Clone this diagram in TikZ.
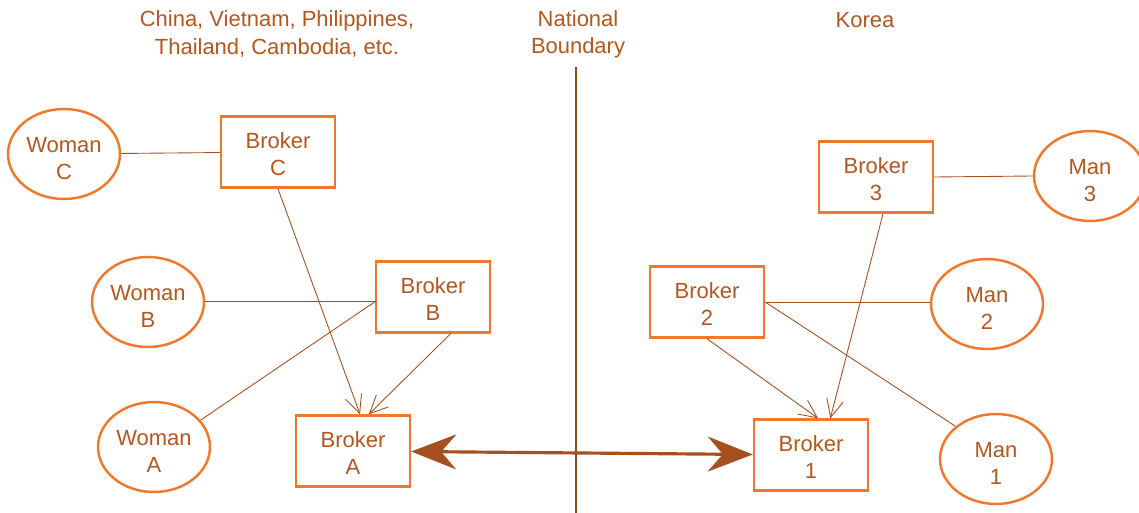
\documentclass[tikz,border=0pt]{standalone}
\usepackage{fontspec}
\setmainfont{Liberation Sans}
\usetikzlibrary{shapes.geometric,arrows.meta}

\definecolor{rim}{HTML}{F0782D}
\definecolor{ink}{HTML}{B5561E}
\definecolor{wire}{HTML}{A5501E}
\definecolor{border}{HTML}{8C4A1E}

\tikzstyle{person} = [ellipse, minimum width=2.24cm, minimum height=1.8cm, inner sep=0pt, text height=29pt, align=center, draw=rim, text=ink, line width=1.4pt, font=\fontsize{12.5}{15.5}\selectfont]
\tikzstyle{broker} = [rectangle, minimum width=2.28cm, minimum height=1.42cm, text height=27.3pt, align=center, draw=rim, text=ink, line width=1.4pt, font=\fontsize{12.5}{15.5}\selectfont]
\tikzstyle{caption} = [align=center, text=ink, font=\fontsize{12.5}{15.5}\selectfont]
\tikzstyle{link} = [draw=wire, line width=0.5pt]
\tikzstyle{arrow} = [link, -{Straight Barb[length=3.6mm, width=3.4mm]}]
\tikzstyle{trade} = [draw=wire, line width=1.8pt, {Stealth[length=9mm, width=7mm, inset=3mm]}-{Stealth[length=9mm, width=7mm, inset=3mm]}]

\begin{document}
\begin{tikzpicture}[x=0.02cm, y=-0.02cm]
		\useasboundingbox (0,0) rectangle (1139,513);
		% Headings
		\node (origin) [caption] at (277,34) {China, Vietnam, Philippines,\\Thailand, Cambodia, etc.};
		\node (national) [caption] at (578,34) {National\\Boundary};
		\node (korea) [caption] at (865,20) {Korea};
		\coordinate (bordertop) at (576,67);
		\coordinate (borderbottom) at (576,513);
		% Nodes
		\node (womanC) [person] at (64,154) {Woman\\C};
		\node (womanB) [person] at (148,302) {Woman\\B};
		\node (womanA) [person] at (154,447) {Woman\\A};
		\node (brokerC) [broker] at (278,152) {Broker\\C};
		\node (brokerB) [broker] at (433,297) {Broker\\B};
		\node (brokerA) [broker] at (353,451) {Broker\\A};
		\node (broker1) [broker] at (811,455) {Broker\\1};
		\node (broker2) [broker] at (707,302) {Broker\\2};
		\node (broker3) [broker] at (876,177) {Broker\\3};
		\node (man3) [person] at (1090,176) {Man\\3};
		\node (man2) [person] at (987,304) {Man\\2};
		\node (man1) [person] at (996,459) {Man\\1};
		% Lines
		\draw [draw=border, line width=1pt] (bordertop) -- (borderbottom);
		\coordinate (meetB) at (376,301);
		\draw [link] (womanC) -- (brokerC);
		\draw [link] (womanB.east |- meetB) -- (meetB);
		\draw [link] (womanA.30) -- (meetB);
		\draw [link] (broker2.east) -- (man2.west |- broker2.east);
		\draw [link] (broker2.east) -- (man1.north west);
		\draw [link] (broker3.east) -- (man3.west);
		% Arrows
		\draw [arrow] (brokerC.south) -- ([xshift=4]brokerA.north);
		\draw [arrow] ([xshift=10]brokerB.south) -- ([xshift=9]brokerA.north);
		\draw [arrow] (broker2.south) -- ([xshift=4]broker1.north);
		\draw [arrow] ([xshift=4]broker3.south) -- ([xshift=11]broker1.north);
		\draw [trade] (brokerA) -- (broker1);
	\end{tikzpicture}
\end{document}
